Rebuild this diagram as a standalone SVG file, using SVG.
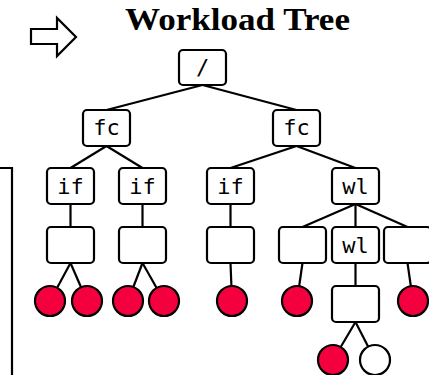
<svg xmlns="http://www.w3.org/2000/svg" width="429" height="375" viewBox="0 0 429 375">
<style>
.box{fill:#fff;stroke:#000;stroke-width:2.2}
.lbl{font-family:"DejaVu Sans Mono",monospace;font-size:22px;text-anchor:middle;fill:#000}
.leaf{fill:#F5003F;stroke:#000;stroke-width:2.2}
.leafw{fill:#fff;stroke:#000;stroke-width:2.2}
.edges line{stroke:#000;stroke-width:2.2}
</style>
<rect width="429" height="375" fill="#fff"/>
<polygon points="31,29 57,29 57,18 76,37 57,56 57,44 31,44" fill="#fff" stroke="#000" stroke-width="2.2" stroke-linejoin="miter"/>
<text x="125" y="30" font-family="'Liberation Serif',serif" font-weight="bold" font-size="31" textLength="225" lengthAdjust="spacingAndGlyphs">Workload Tree</text>
<path d="M0 168 H12 V375" fill="none" stroke="#000" stroke-width="2.2"/>
<g class="edges">
<line x1="202.5" y1="85" x2="106.5" y2="110"/>
<line x1="202.5" y1="85" x2="296.5" y2="110"/>
<line x1="106.5" y1="146" x2="70.5" y2="168"/>
<line x1="106.5" y1="146" x2="142.5" y2="168"/>
<line x1="296.5" y1="146" x2="230.5" y2="168"/>
<line x1="296.5" y1="146" x2="355.5" y2="168"/>
<line x1="70.5" y1="204" x2="70.5" y2="227"/>
<line x1="142.5" y1="204" x2="142.5" y2="227"/>
<line x1="230.5" y1="204" x2="230.5" y2="227"/>
<line x1="355.5" y1="204" x2="302.5" y2="227"/>
<line x1="355.5" y1="204" x2="355.5" y2="227"/>
<line x1="355.5" y1="204" x2="407.5" y2="227"/>
<line x1="70.5" y1="263" x2="50" y2="301"/>
<line x1="70.5" y1="263" x2="87" y2="301"/>
<line x1="142.5" y1="263" x2="128" y2="301"/>
<line x1="142.5" y1="263" x2="164" y2="301"/>
<line x1="230.5" y1="263" x2="232" y2="301"/>
<line x1="302.5" y1="263" x2="297" y2="301"/>
<line x1="407.5" y1="263" x2="413" y2="301"/>
<line x1="355.5" y1="263" x2="355.5" y2="286"/>
<line x1="355.5" y1="322" x2="333" y2="360"/>
<line x1="355.5" y1="322" x2="375" y2="360"/>
</g>
<g id="root"><rect class="box" x="179" y="50" width="47" height="35" rx="4"/><text class="lbl" x="202.5" y="75">/</text></g>
<g id="fc1"><rect class="box" x="83" y="110" width="47" height="36" rx="4"/><text class="lbl" x="106.5" y="135">fc</text></g>
<g id="fc2"><rect class="box" x="273" y="110" width="47" height="36" rx="4"/><text class="lbl" x="296.5" y="135">fc</text></g>
<g id="if1"><rect class="box" x="47" y="168" width="47" height="36" rx="4"/><text class="lbl" x="70.5" y="194">if</text></g>
<g id="if2"><rect class="box" x="119" y="168" width="47" height="36" rx="4"/><text class="lbl" x="142.5" y="194">if</text></g>
<g id="if3"><rect class="box" x="207" y="168" width="47" height="36" rx="4"/><text class="lbl" x="230.5" y="194">if</text></g>
<g id="wl1"><rect class="box" x="332" y="168" width="47" height="36" rx="4"/><text class="lbl" x="355.5" y="194">wl</text></g>
<g id="b1"><rect class="box" x="47" y="227" width="47" height="36" rx="4"/></g>
<g id="b2"><rect class="box" x="119" y="227" width="47" height="36" rx="4"/></g>
<g id="b3"><rect class="box" x="207" y="227" width="47" height="36" rx="4"/></g>
<g id="b4"><rect class="box" x="279" y="227" width="47" height="36" rx="4"/></g>
<g id="wl2"><rect class="box" x="332" y="227" width="47" height="36" rx="4"/><text class="lbl" x="355.5" y="253">wl</text></g>
<g id="b5"><rect class="box" x="384" y="227" width="47" height="36" rx="4"/></g>
<g id="b6"><rect class="box" x="332" y="286" width="47" height="36" rx="4"/></g>
<g id="c1"><circle class="leaf" cx="50" cy="301" r="15"/></g>
<g id="c2"><circle class="leaf" cx="87" cy="301" r="15"/></g>
<g id="c3"><circle class="leaf" cx="128" cy="301" r="15"/></g>
<g id="c4"><circle class="leaf" cx="164" cy="301" r="15"/></g>
<g id="c5"><circle class="leaf" cx="232" cy="301" r="15"/></g>
<g id="c6"><circle class="leaf" cx="297" cy="301" r="15"/></g>
<g id="c7"><circle class="leaf" cx="413" cy="301" r="15"/></g>
<g id="c8"><circle class="leaf" cx="333" cy="360" r="15"/></g>
<g id="c9"><circle class="leafw" cx="375" cy="360" r="15"/></g>
</svg>
